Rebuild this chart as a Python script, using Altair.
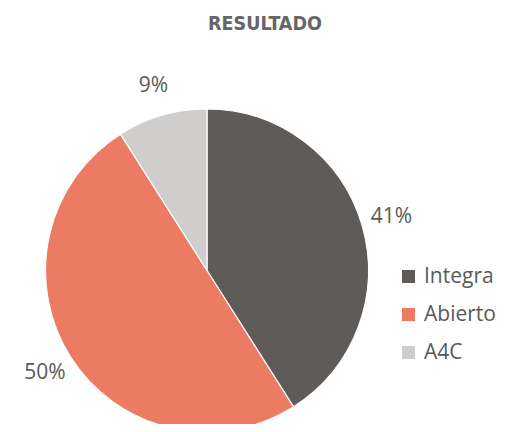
import altair as alt
import pandas as pd

categories = ["Integra", "Abierto", "A4C"]
values = [41, 50, 9]
labels = ["41%", "50%", "9%"]
colors = ["#5f5b58", "#ec7b63", "#d0cecd"]
title_text = "RESULTADO"

df = pd.DataFrame({"cat": categories, "val": values, "lab": labels, "ord": [0, 1, 2]})

CX, CY, R = 199, 262.5, 161.5

base = alt.Chart(df).encode(
    theta=alt.Theta("val:Q", stack=True),
    order=alt.Order("ord:Q"),
)

arcs = base.mark_arc(radius=R, stroke="white", strokeWidth=1.2).encode(
    x=alt.value(CX),
    y=alt.value(CY),
    color=alt.Color(
        "cat:N",
        scale=alt.Scale(domain=categories, range=colors),
        sort=categories,
        legend=alt.Legend(
            title=None,
            orient="none",
            legendX=390,
            legendY=258,
            symbolType="square",
            symbolSize=169,
            symbolStrokeWidth=0,
            labelFontSize=21,
            labelFont="Open Sans",
            labelColor="#595959",
            labelOffset=5,
            labelLimit=200,
            rowPadding=16,
            padding=0,
        ),
    ),
)

texts = base.mark_text(
    radius=192, font="Open Sans", fontSize=21, color="#595959"
).encode(
    x=alt.value(CX),
    y=alt.value(CY),
    text="lab:N",
)

title = alt.Chart(pd.DataFrame({"t": [title_text]})).mark_text(
    font="DejaVu Sans Condensed", fontWeight="bold", fontSize=19.5,
    color="#666666", align="center", baseline="middle",
).encode(x=alt.value(257), y=alt.value(16), text="t:N")

chart = alt.layer(arcs, texts, title).properties(
    width=490, height=416, autosize=alt.AutoSizeParams(type="none"), padding=0
).configure_view(stroke=None)

chart.save("out.html", embed_options={"renderer": "svg", "actions": False})
